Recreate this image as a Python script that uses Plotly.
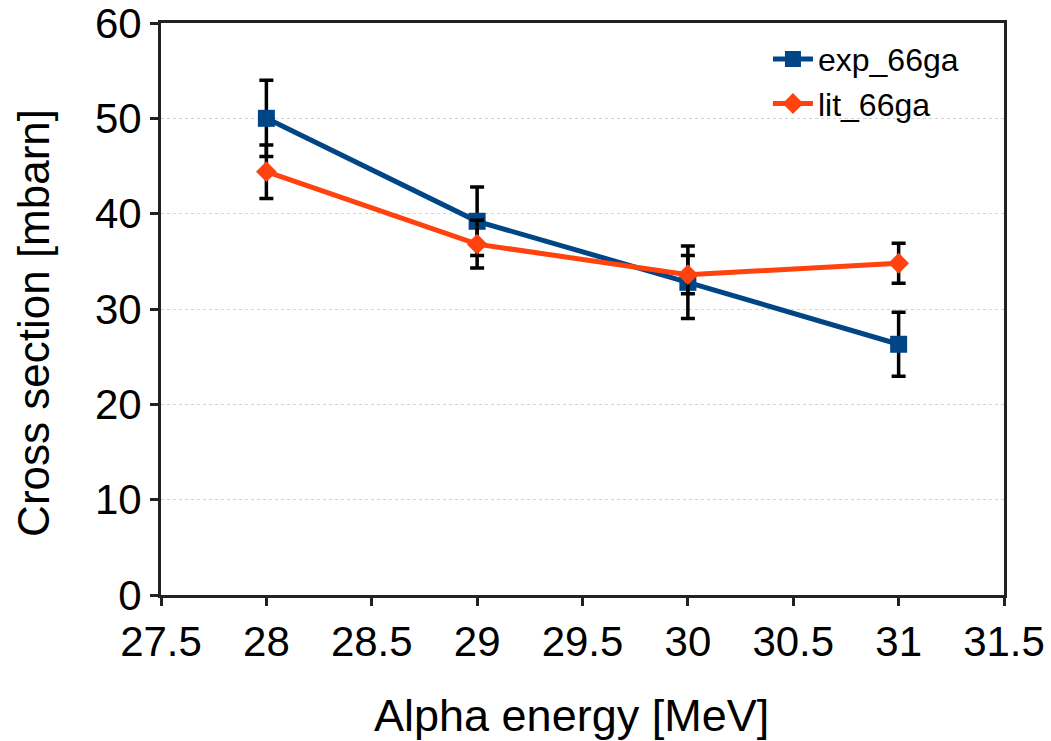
import plotly.graph_objects as go

energy = [28, 29, 30, 31]
exp_66ga = [50.0, 39.2, 32.8, 26.3]
exp_err = [4.0, 3.6, 3.8, 3.35]
lit_66ga = [44.4, 36.8, 33.6, 34.8]
lit_err = [2.8, 2.5, 2.0, 2.1]

blue = "#004586"
orange = "#ff420e"

fig = go.Figure()
fig.add_trace(go.Scatter(
    x=energy, y=exp_66ga, name="exp_66ga", mode="lines+markers",
    line=dict(color=blue, width=5),
    marker=dict(symbol="square", size=17, color=blue),
    error_y=dict(type="data", array=exp_err, visible=True, color="black", thickness=3.5, width=7),
))
fig.add_trace(go.Scatter(
    x=energy, y=lit_66ga, name="lit_66ga", mode="lines+markers",
    line=dict(color=orange, width=5),
    marker=dict(symbol="diamond", size=16, color=orange),
    error_y=dict(type="data", array=lit_err, visible=True, color="black", thickness=3.5, width=7),
))

font = "Liberation Sans, Arial, sans-serif"
fig.update_layout(
    width=1051, height=741,
    margin=dict(l=161, r=47, t=23, b=146),
    paper_bgcolor="white", plot_bgcolor="white",
    font=dict(family=font, color="black"),
    showlegend=True,
    legend=dict(x=0.72, y=0.985, xanchor="left", yanchor="top",
                font=dict(size=32, family=font), bgcolor="rgba(0,0,0,0)",
                tracegroupgap=0, itemwidth=40),
    xaxis=dict(
        range=[27.5, 31.5], tickvals=[27.5, 28, 28.5, 29, 29.5, 30, 30.5, 31, 31.5],
        ticktext=["27.5", "28", "28.5", "29", "29.5", "30", "30.5", "31", "31.5"],
        showgrid=False, zeroline=False, automargin=False,
        showline=True, linecolor="#222222", linewidth=3, mirror=True,
        ticks="outside", ticklen=8, tickwidth=3, tickcolor="#222222",
        tickfont=dict(size=42), ticklabeloverflow="allow",
    ),
    yaxis=dict(
        range=[0, 60], tickvals=[0, 10, 20, 30, 40, 50, 60],
        showgrid=True, gridcolor="#d4d4d4", griddash="dot", gridwidth=1,
        zeroline=False, automargin=False,
        showline=True, linecolor="#222222", linewidth=3, mirror=True,
        ticks="outside", ticklen=8, tickwidth=3, tickcolor="#222222",
        tickfont=dict(size=42), ticklabeloverflow="allow",
    ),
    annotations=[
        dict(text="Alpha energy [MeV]", xref="paper", yref="paper",
             x=0.4864, y=-0.21, xanchor="center", yanchor="middle",
             showarrow=False, font=dict(size=45, family=font, color="black")),
        dict(text="Cross section [mbarn]", xref="paper", yref="paper",
             x=-0.152, y=0.4755, xanchor="center", yanchor="middle", textangle=-90,
             showarrow=False, font=dict(size=44, family=font, color="black")),
    ],
)

fig.write_html("out.html")
